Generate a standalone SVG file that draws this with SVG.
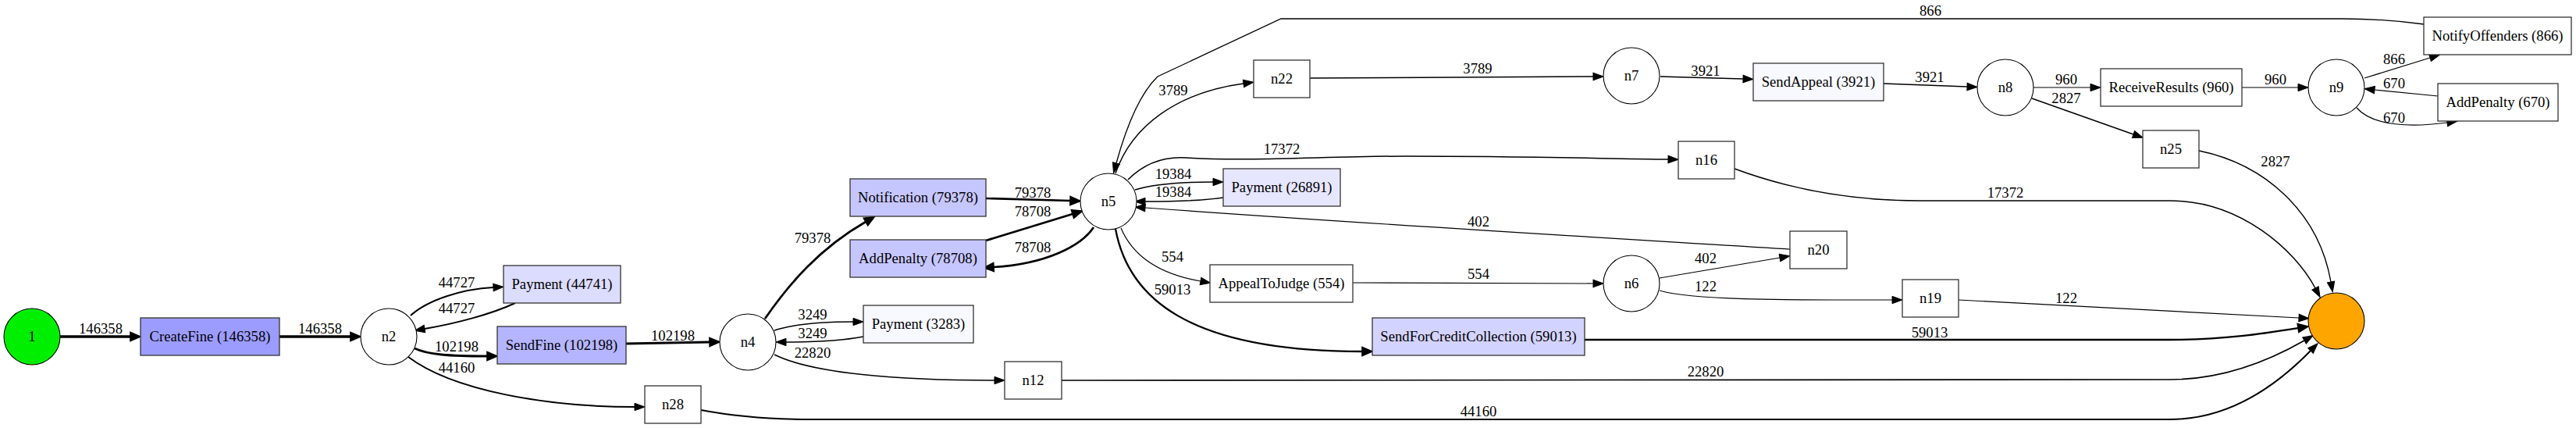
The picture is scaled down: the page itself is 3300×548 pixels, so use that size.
<svg xmlns="http://www.w3.org/2000/svg" width="3300" height="548" viewBox="0 0 3300 548">
<style>
text{font-family:"Liberation Serif","Times New Roman",serif;font-size:18.67px;fill:#000;text-anchor:middle}
.box{stroke:#333;stroke-width:1.3}
.circ{fill:#fff;stroke:#000;stroke-width:1.1}
.e{fill:none;stroke:#000}
.a{marker-end:url(#ah)}
.b{marker-end:url(#ahb)}
</style>
<defs>
<marker id="ah" markerUnits="userSpaceOnUse" markerWidth="16" markerHeight="12" refX="0" refY="4.7" orient="auto" overflow="visible"><path d="M0,0 L13,4.7 L0,9.4 z" fill="#000" stroke="#000" stroke-width="1"/></marker>
<marker id="ahb" markerUnits="userSpaceOnUse" markerWidth="16" markerHeight="14" refX="0" refY="4.7" orient="auto" overflow="visible"><path d="M0,-0.8 L13,4.7 L0,10.2 z" fill="#000" stroke="#000" stroke-width="1.6"/></marker>
</defs>
<rect width="3300" height="548" fill="#fff"/>
<g id="connectors">
<path class="e b" stroke-width="3.5" d="M77,431 L167,431"/>
<path class="e b" stroke-width="3.5" d="M358,431 L449,431"/>
<path class="e a" stroke-width="2" d="M526,404 C548,384 592,370 632,368"/>
<path class="e a" stroke-width="2" d="M660,388 C630,402 585,414 544,421"/>
<path class="e b" stroke-width="3" d="M531,446 C548,454 575,456 624,456"/>
<path class="e a" stroke-width="2" d="M523,457 C580,500 700,521 813,521"/>
<path class="e b" stroke-width="3" d="M802,440 L909,438"/>
<path class="e b" stroke-width="2.7" d="M980,408 C1012,362 1050,318 1109,284"/>
<path class="e b" stroke-width="2.7" d="M1263,254 L1371,257"/>
<path class="e b" stroke-width="2.7" d="M1263,308 L1374,274"/>
<path class="e b" stroke-width="2.7" d="M1401,291 C1385,315 1340,338 1273,342"/>
<path class="e a" stroke-width="1.4" d="M992,423 C1020,414 1060,412 1093,412"/>
<path class="e a" stroke-width="1.4" d="M1106,431 C1080,436 1040,438 1007,438"/>
<path class="e a" stroke-width="1.6" d="M992,454 C1040,478 1150,487 1274,487"/>
<path class="e a" stroke-width="1.6" d="M1360,487 L2780,486 C2850,486 2910,460 2952,436"/>
<path class="e a" stroke-width="2" d="M898,525 C940,533 990,537 1040,537 L2780,537 C2860,537 2920,490 2960,449"/>
<path class="e b" stroke-width="2.3" d="M2030,435 L2780,435 C2850,435 2900,427 2944,420"/>
<path class="e a" stroke-width="1.2" d="M2509,384 L2945,407"/>
<path class="e a" stroke-width="1.5" d="M2222,216 C2300,245 2380,257 2460,257 L2780,257 C2870,257 2940,320 2966,369"/>
<path class="e a" stroke-width="1.4" d="M2817,193 C2900,210 2970,270 2986,361"/>
<path class="e a" stroke-width="1.5" d="M1445,230 C1465,210 1490,200 1520,202 C1600,207 1700,200 1800,200 C1950,200 2050,203 2137,204"/>
<path class="e a" stroke-width="1.5" d="M1454,243 C1480,235 1520,233 1554,233"/>
<path class="e a" stroke-width="1.5" d="M1567,253 C1540,257 1500,258 1467,258"/>
<path class="e a" stroke-width="1.2" d="M2293,319 C2100,307 1800,290 1467,266"/>
<path class="e a" stroke-width="1.2" d="M1436,292 C1450,325 1480,350 1538,360"/>
<path class="e a" stroke-width="1.2" d="M1733,362 L2041,363"/>
<path class="e b" stroke-width="2.3" d="M1429,293 C1445,380 1520,450 1745,450"/>
<path class="e a" stroke-width="1.2" d="M2126,356 L2280,330"/>
<path class="e a" stroke-width="1.2" d="M2126,372 C2170,385 2300,384 2424,384"/>
<path class="e a" stroke-width="1.3" d="M3105,31 C3060,25 3020,24 3000,24 L1641,24 L1483,98 C1455,125 1438,180 1430,209"/>
<path class="e a" stroke-width="1.4" d="M1429,222 C1450,160 1510,118 1593,107"/>
<path class="e a" stroke-width="1.4" d="M1678,100 L2041,98"/>
<path class="e a" stroke-width="1.4" d="M2127,98 L2233,101"/>
<path class="e a" stroke-width="1.4" d="M2413,107 L2520,111"/>
<path class="e a" stroke-width="1.2" d="M2605,112 L2678,112"/>
<path class="e a" stroke-width="1.4" d="M2603,126 L2733,172"/>
<path class="e a" stroke-width="1.2" d="M2872,112 L2944,112"/>
<path class="e a" stroke-width="1.2" d="M3029,100 L3113,74"/>
<path class="e a" stroke-width="1.2" d="M3123,123 L3042,115"/>
<path class="e a" stroke-width="1.2" d="M3019,138 C3040,162 3090,163 3135,157"/>
<text x="129" y="427">146358</text>
<text x="410" y="427">146358</text>
<text x="585" y="368">44727</text>
<text x="585" y="401">44727</text>
<text x="585" y="450">102198</text>
<text x="585" y="477">44160</text>
<text x="862" y="436">102198</text>
<text x="1041" y="311">79378</text>
<text x="1323" y="253">79378</text>
<text x="1323" y="277">78708</text>
<text x="1323" y="323">78708</text>
<text x="1041" y="409">3249</text>
<text x="1041" y="433">3249</text>
<text x="1041" y="458">22820</text>
<text x="1642" y="197">17372</text>
<text x="1503" y="229">19384</text>
<text x="1503" y="252">19384</text>
<text x="1894" y="290">402</text>
<text x="1502" y="335">554</text>
<text x="1894" y="357">554</text>
<text x="1502" y="377">59013</text>
<text x="2472" y="432">59013</text>
<text x="2185" y="482">22820</text>
<text x="1894" y="533">44160</text>
<text x="2185" y="337">402</text>
<text x="2185" y="373">122</text>
<text x="2647" y="388">122</text>
<text x="2569" y="253">17372</text>
<text x="2915" y="213">2827</text>
<text x="1503" y="122">3789</text>
<text x="1893" y="94">3789</text>
<text x="2185" y="97">3921</text>
<text x="2472" y="105">3921</text>
<text x="2647" y="108">960</text>
<text x="2647" y="132">2827</text>
<text x="2915" y="108">960</text>
<text x="3067" y="82">866</text>
<text x="3067" y="113">670</text>
<text x="3067" y="157">670</text>
<text x="2473" y="20">866</text>
</g>
<g id="start"><circle cx="41" cy="431" r="36" fill="#00ee00" stroke="#000" stroke-width="1.1"/><text x="41" y="437">1</text></g>
<g id="CreateFine"><rect class="box" x="180" y="407" width="178" height="48" fill="#9c9cff"/><text x="269" y="437">CreateFine (146358)</text></g>
<g id="n2"><circle class="circ" cx="498" cy="431" r="36"/><text x="498" y="437">n2</text></g>
<g id="Payment44741"><rect class="box" x="645" y="340" width="150" height="48" fill="#dcdcff"/><text x="720" y="370">Payment (44741)</text></g>
<g id="SendFine"><rect class="box" x="637" y="418" width="165" height="48" fill="#b5b5ff"/><text x="719.5" y="448">SendFine (102198)</text></g>
<g id="n28"><rect class="box" x="826" y="494" width="72" height="48" fill="#fff"/><text x="862" y="524">n28</text></g>
<g id="n4"><circle class="circ" cx="958" cy="438" r="36"/><text x="958" y="444">n4</text></g>
<g id="Notification"><rect class="box" x="1089" y="229" width="174" height="48" fill="#c6c6ff"/><text x="1176" y="259">Notification (79378)</text></g>
<g id="AddPenalty78708"><rect class="box" x="1089" y="307" width="174" height="48" fill="#c6c6ff"/><text x="1176" y="337">AddPenalty (78708)</text></g>
<g id="Payment3283"><rect class="box" x="1106" y="391" width="141" height="48" fill="#f8f8ff"/><text x="1176.5" y="421">Payment (3283)</text></g>
<g id="n12"><rect class="box" x="1287" y="463" width="73" height="48" fill="#fff"/><text x="1323.5" y="493">n12</text></g>
<g id="n5"><circle class="circ" cx="1420" cy="258" r="36"/><text x="1420" y="264">n5</text></g>
<g id="n22"><rect class="box" x="1606" y="77" width="72" height="48" fill="#fff"/><text x="1642" y="107">n22</text></g>
<g id="Payment26891"><rect class="box" x="1567" y="216" width="150" height="48" fill="#e6e6ff"/><text x="1642" y="246">Payment (26891)</text></g>
<g id="AppealToJudge"><rect class="box" x="1550" y="339" width="183" height="48" fill="#fff"/><text x="1641.5" y="369">AppealToJudge (554)</text></g>
<g id="SendForCreditCollection"><rect class="box" x="1758" y="407" width="272" height="48" fill="#d3d3ff"/><text x="1894" y="437">SendForCreditCollection (59013)</text></g>
<g id="n7"><circle class="circ" cx="2090" cy="97" r="36"/><text x="2090" y="103">n7</text></g>
<g id="n16"><rect class="box" x="2150" y="181" width="72" height="48" fill="#fff"/><text x="2186" y="211">n16</text></g>
<g id="n6"><circle class="circ" cx="2090" cy="363" r="36"/><text x="2090" y="369">n6</text></g>
<g id="n20"><rect class="box" x="2293" y="296" width="73" height="48" fill="#fff"/><text x="2329.5" y="326">n20</text></g>
<g id="SendAppeal"><rect class="box" x="2246" y="81" width="167" height="48" fill="#f8f8ff"/><text x="2329.5" y="111">SendAppeal (3921)</text></g>
<g id="n19"><rect class="box" x="2437" y="358" width="72" height="48" fill="#fff"/><text x="2473" y="388">n19</text></g>
<g id="n8"><circle class="circ" cx="2569" cy="112" r="36"/><text x="2569" y="118">n8</text></g>
<g id="ReceiveResults"><rect class="box" x="2691" y="88" width="181" height="48" fill="#fff"/><text x="2781.5" y="118">ReceiveResults (960)</text></g>
<g id="n25"><rect class="box" x="2745" y="167" width="72" height="48" fill="#fff"/><text x="2781" y="197">n25</text></g>
<g id="n9"><circle class="circ" cx="2993" cy="112" r="36"/><text x="2993" y="118">n9</text></g>
<g id="end"><circle cx="2993" cy="411" r="36" fill="#ffa500" stroke="#000" stroke-width="1.1"/></g>
<g id="NotifyOffenders"><rect class="box" x="3105" y="22" width="189" height="48" fill="#fff"/><text x="3199.5" y="52">NotifyOffenders (866)</text></g>
<g id="AddPenalty670"><rect class="box" x="3123" y="107" width="154" height="48" fill="#fff"/><text x="3200" y="137">AddPenalty (670)</text></g>
</svg>
